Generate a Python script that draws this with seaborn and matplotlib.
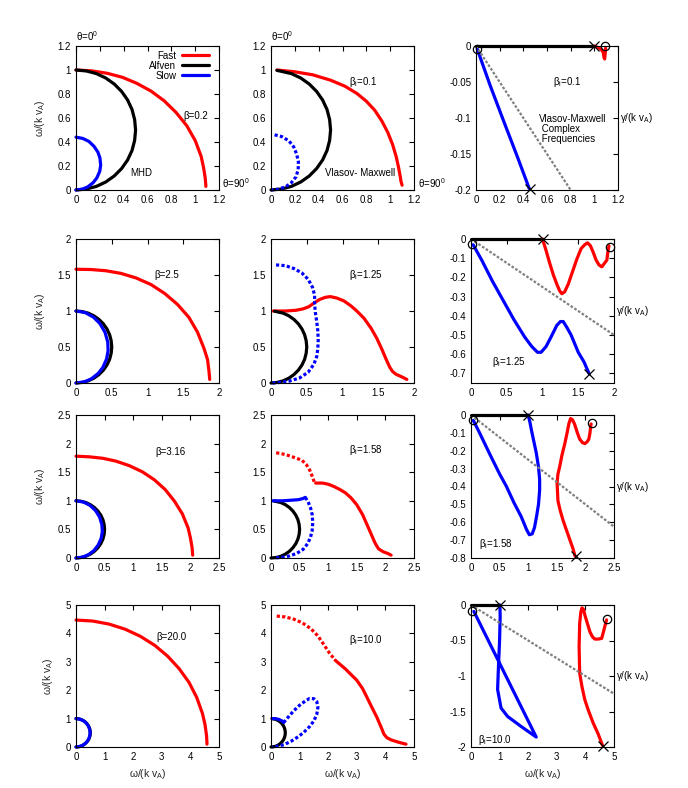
import matplotlib
matplotlib.use('Agg')
import matplotlib.pyplot as plt
from matplotlib.ticker import FuncFormatter
import seaborn as sns

# ---------------- values ----------------
# MHD column (left): Alfven circle, same in every row
alfven_x = [0, 0.087, 0.171, 0.25, 0.321, 0.383, 0.433, 0.47, 0.492, 0.5,
            0.492, 0.47, 0.433, 0.383, 0.321, 0.25, 0.171, 0.087, 0]
alfven_y = [1, 0.992, 0.97, 0.933, 0.883, 0.821, 0.75, 0.671, 0.587, 0.5,
            0.413, 0.329, 0.25, 0.179, 0.117, 0.067, 0.03, 0.008, 0]

# beta = 0.2
mhd1_fast_x = [0, 0.13, 0.26, 0.39, 0.51, 0.63, 0.74, 0.84, 0.93, 1.0, 1.05, 1.07, 1.085, 1.09]
mhd1_fast_y = [1, 0.993, 0.973, 0.939, 0.889, 0.824, 0.743, 0.646, 0.535, 0.413, 0.281, 0.189, 0.095, 0.03]
mhd1_slow_x = [0, 0.056, 0.108, 0.151, 0.183, 0.201, 0.207, 0.199, 0.175, 0.145, 0.1, 0.056, 0]
mhd1_slow_y = [0.44, 0.43, 0.405, 0.364, 0.317, 0.267, 0.207, 0.155, 0.101, 0.062, 0.027, 0.008, 0]
# beta = 2.5
mhd2_fast_x = [0, 0.21, 0.42, 0.63, 0.84, 1.05, 1.24, 1.42, 1.58, 1.7, 1.79, 1.84, 1.86, 1.87]
mhd2_fast_y = [1.58, 1.576, 1.559, 1.522, 1.459, 1.367, 1.244, 1.091, 0.91, 0.705, 0.481, 0.324, 0.163, 0.05]
mhd2_slow_x = [0, 0.129, 0.245, 0.334, 0.406, 0.444, 0.449, 0.428, 0.376, 0.309, 0.213, 0.117, 0]
mhd2_slow_y = [1, 0.978, 0.914, 0.826, 0.704, 0.569, 0.449, 0.335, 0.217, 0.131, 0.057, 0.016, 0]
# beta = 3.16
mhd3_fast_x = [0, 0.23, 0.47, 0.7, 0.93, 1.16, 1.37, 1.56, 1.72, 1.86, 1.96, 2.0, 2.03, 2.04]
mhd3_fast_y = [1.78, 1.769, 1.743, 1.693, 1.615, 1.507, 1.367, 1.196, 0.995, 0.77, 0.525, 0.353, 0.178, 0.05]
mhd3_slow_x = [0, 0.129, 0.246, 0.343, 0.413, 0.453, 0.46, 0.44, 0.386, 0.312, 0.219, 0.12, 0]
mhd3_slow_y = [1, 0.979, 0.919, 0.828, 0.715, 0.58, 0.46, 0.343, 0.223, 0.129, 0.059, 0.017, 0]
# beta = 20.0
mhd4_fast_x = [0, 0.58, 1.16, 1.72, 2.25, 2.75, 3.2, 3.6, 3.95, 4.22, 4.42, 4.51, 4.565, 4.58]
mhd4_fast_y = [4.47, 4.436, 4.327, 4.147, 3.898, 3.582, 3.202, 2.766, 2.278, 1.748, 1.184, 0.795, 0.399, 0.1]
mhd4_slow_x = [0, 0.129, 0.25, 0.352, 0.43, 0.478, 0.494, 0.475, 0.425, 0.346, 0.244, 0.135, 0]
mhd4_slow_y = [1, 0.981, 0.931, 0.85, 0.745, 0.623, 0.494, 0.365, 0.246, 0.143, 0.066, 0.019, 0]

# Vlasov-Maxwell real frequencies (middle column)
vm_alfven_x = [0.05, 0.171, 0.25, 0.321, 0.383, 0.433, 0.47, 0.492, 0.5,
               0.492, 0.47, 0.433, 0.383, 0.321, 0.25, 0.171, 0.087, 0]
vm_alfven_y = [0.997, 0.97, 0.933, 0.883, 0.821, 0.75, 0.671, 0.587, 0.5,
               0.413, 0.329, 0.25, 0.179, 0.117, 0.067, 0.03, 0.008, 0]
# beta_i = 0.1
vm1_fast_x = [0.05, 0.2, 0.35, 0.5, 0.62, 0.72, 0.8, 0.87, 0.93, 0.98, 1.02, 1.05, 1.07, 1.085, 1.09, 1.1]
vm1_fast_y = [1.0, 0.985, 0.96, 0.915, 0.865, 0.805, 0.74, 0.665, 0.575, 0.48, 0.38, 0.28, 0.19, 0.11, 0.075, 0.04]
vm1_slow_x = [0.03, 0.09, 0.15, 0.19, 0.215, 0.23, 0.228, 0.21, 0.17, 0.12, 0.06, 0.0]
vm1_slow_y = [0.46, 0.445, 0.41, 0.36, 0.3, 0.235, 0.17, 0.11, 0.06, 0.025, 0.007, 0.0]
# beta_i = 1.25
vm2_fast_x = [0.03, 0.2, 0.35, 0.45, 0.53, 0.6, 0.68, 0.76, 0.83, 0.92, 1.02, 1.12, 1.2, 1.3, 1.4,
              1.48, 1.55, 1.61, 1.66, 1.7, 1.75, 1.82, 1.9]
vm2_fast_y = [1.0, 1.0, 1.01, 1.03, 1.06, 1.11, 1.16, 1.19, 1.2, 1.18, 1.14, 1.07, 1.0, 0.9, 0.76,
              0.62, 0.47, 0.33, 0.22, 0.16, 0.12, 0.09, 0.05]
vm2_slow_x = [0.07, 0.2, 0.32, 0.43, 0.52, 0.58, 0.61, 0.61, 0.62, 0.64, 0.655, 0.66, 0.655,
              0.64, 0.6, 0.52, 0.4, 0.25, 0.1, 0.02]
vm2_slow_y = [1.64, 1.63, 1.59, 1.53, 1.44, 1.33, 1.22, 1.1, 0.98, 0.85, 0.72, 0.6, 0.48,
              0.37, 0.26, 0.15, 0.07, 0.025, 0.005, 0]
# beta_i = 1.58
vm3_fast_dot_x = [0.09, 0.25, 0.4, 0.54, 0.62, 0.68, 0.72, 0.76]
vm3_fast_dot_y = [1.84, 1.81, 1.76, 1.71, 1.63, 1.53, 1.43, 1.32]
vm3_fast_x = [0.78, 0.9, 1.0, 1.1, 1.2, 1.3, 1.4, 1.5, 1.6, 1.68, 1.75, 1.82, 1.88, 1.96, 2.04, 2.1]
vm3_fast_y = [1.31, 1.31, 1.29, 1.25, 1.2, 1.14, 1.05, 0.93, 0.76, 0.58, 0.42, 0.26, 0.16, 0.11, 0.08, 0.05]
vm3_slow_top_x = [0.03, 0.2, 0.35, 0.48, 0.56, 0.6]
vm3_slow_top_y = [1.0, 1.0, 1.01, 1.02, 1.04, 1.06]
vm3_slow_x = [0.6, 0.65, 0.69, 0.72, 0.73, 0.72, 0.69, 0.64, 0.56, 0.45, 0.32, 0.18, 0.05]
vm3_slow_y = [1.06, 0.98, 0.88, 0.76, 0.62, 0.48, 0.36, 0.25, 0.15, 0.08, 0.035, 0.01, 0]
# beta_i = 10.0
vm4_fast_dot_x = [0.2, 0.5, 0.8, 1.1, 1.4, 1.65, 1.85, 2.05, 2.25]
vm4_fast_dot_y = [4.61, 4.58, 4.5, 4.37, 4.16, 3.9, 3.6, 3.3, 3.05]
vm4_fast_x = [2.25, 2.6, 3.0, 3.2, 3.35, 3.5, 3.7, 3.85, 3.95, 4.05, 4.2, 4.45, 4.72]
vm4_fast_y = [3.05, 2.75, 2.35, 2.06, 1.76, 1.45, 1.05, 0.7, 0.45, 0.33, 0.25, 0.17, 0.1]
vm4_slow_top_x = [0.03, 0.15, 0.28, 0.38, 0.44]
vm4_slow_top_y = [1.0, 1.0, 0.97, 0.92, 0.86]
vm4_slow_x = [0.44, 0.6, 0.8, 1.0, 1.2, 1.35, 1.5, 1.6, 1.64, 1.6, 1.5, 1.35, 1.15, 0.95, 0.7,
              0.45, 0.2, 0.05]
vm4_slow_y = [0.86, 1.05, 1.28, 1.47, 1.62, 1.71, 1.7, 1.6, 1.4, 1.15, 0.92, 0.72, 0.52, 0.36, 0.2,
              0.08, 0.02, 0]

# Vlasov-Maxwell complex frequencies (right column): x = omega, y = gamma
cf1_alfven_x, cf1_alfven_y = [0, 1.0], [0, 0]
cf1_fast_x = [1.0, 1.03, 1.06, 1.075, 1.082, 1.087, 1.092, 1.095]
cf1_fast_y = [0, -0.002, -0.005, -0.009, -0.016, -0.018, -0.01, -0.003]
cf1_slow_x = [0.01, 0.12, 0.24, 0.35, 0.45]
cf1_slow_y = [-0.004, -0.055, -0.107, -0.154, -0.198]
cf1_ref_x, cf1_ref_y = [0, 0.8], [0, -0.2]
cf1_circ_x, cf1_circ_y = [0.01, 1.093], [-0.004, 0.0]
cf1_cross_x, cf1_cross_y = [1.0, 0.454], [0.0, -0.199]

cf2_alfven_x, cf2_alfven_y = [0, 1.0], [0, 0]
cf2_fast_x = [1.0, 1.05, 1.1, 1.15, 1.2, 1.24, 1.27, 1.31, 1.36, 1.42, 1.48, 1.54, 1.59, 1.63,
              1.67, 1.71, 1.75, 1.79, 1.83, 1.87, 1.9, 1.915, 1.93]
cf2_fast_y = [0, -0.06, -0.125, -0.185, -0.235, -0.27, -0.285, -0.275, -0.235, -0.17, -0.105,
              -0.05, -0.03, -0.02, -0.035, -0.07, -0.11, -0.135, -0.145, -0.125, -0.11, -0.065, -0.035]
cf2_slow_x = [0.03, 0.15, 0.3, 0.45, 0.6, 0.75, 0.85, 0.93, 0.98, 1.05, 1.12, 1.2, 1.25, 1.29,
              1.34, 1.4, 1.5, 1.58, 1.65]
cf2_slow_y = [-0.03, -0.11, -0.22, -0.32, -0.42, -0.51, -0.56, -0.59, -0.59, -0.56, -0.51, -0.45,
              -0.43, -0.43, -0.46, -0.5, -0.59, -0.64, -0.7]
cf2_ref_x, cf2_ref_y = [0, 2.0], [0, -0.5]
cf2_circ_x, cf2_circ_y = [0.02, 1.94], [-0.028, -0.04]
cf2_cross_x, cf2_cross_y = [1.0, 1.65], [0.0, -0.703]

cf3_alfven_x, cf3_alfven_y = [0, 1.0], [0, 0]
cf3_fast_x = [1.82, 1.78, 1.73, 1.67, 1.61, 1.56, 1.52, 1.505, 1.52, 1.55, 1.59, 1.64, 1.68, 1.71,
              1.74, 1.77, 1.81, 1.86, 1.9, 1.95, 1.99, 2.03, 2.06, 2.08, 2.09, 2.1]
cf3_fast_y = [-0.79, -0.745, -0.7, -0.645, -0.59, -0.535, -0.48, -0.38, -0.33, -0.29, -0.225,
              -0.16, -0.1, -0.05, -0.02, -0.025, -0.05, -0.1, -0.135, -0.155, -0.16, -0.15, -0.135,
              -0.1, -0.07, -0.05]
cf3_slow_x = [0.04, 0.15, 0.33, 0.5, 0.62, 0.75, 0.88, 0.97, 1.02, 1.07, 1.11, 1.15, 1.18, 1.2,
              1.2, 1.18, 1.14, 1.1, 1.06, 1.03, 1.0]
cf3_slow_y = [-0.03, -0.1, -0.22, -0.33, -0.4, -0.49, -0.57, -0.64, -0.67, -0.665, -0.63, -0.56,
              -0.5, -0.42, -0.36, -0.29, -0.21, -0.15, -0.09, -0.04, 0.0]
cf3_ref_x, cf3_ref_y = [0, 2.5], [0, -0.625]
cf3_circ_x, cf3_circ_y = [0.03, 2.116], [-0.026, -0.046]
cf3_cross_x, cf3_cross_y = [1.0, 1.84], [0.0, -0.79]

cf4_alfven_x, cf4_alfven_y = [0, 1.0], [0, 0]
cf4_fast_x = [4.6, 4.45, 4.27, 4.1, 3.98, 3.88, 3.8, 3.78, 3.8, 3.84, 3.88, 3.93, 3.98, 4.04, 4.1,
              4.16, 4.25, 4.33, 4.45, 4.57, 4.63, 4.68, 4.74]
cf4_fast_y = [-1.98, -1.82, -1.66, -1.48, -1.335, -1.15, -0.96, -0.59, -0.26, -0.1, -0.04, -0.06,
              -0.14, -0.22, -0.3, -0.38, -0.45, -0.48, -0.48, -0.47, -0.38, -0.3, -0.21]
cf4_slow_x = [0.1, 2.28, 1.75, 1.28, 1.05, 0.93, 0.96, 1.0, 1.02, 1.01]
cf4_slow_y = [-0.09, -1.86, -1.71, -1.57, -1.45, -1.19, -0.87, -0.49, -0.16, 0.0]
cf4_ref_x, cf4_ref_y = [0, 5.0], [0, -1.25]
cf4_circ_x, cf4_circ_y = [0.05, 4.77], [-0.08, -0.2]
cf4_cross_x, cf4_cross_y = [1.01, 4.6], [0.0, -1.98]

RED, BLACK, BLUE, GREY = '#ff0000', '#000000', '#0000ff', '#808080'

# ---------------- style ----------------
sns.set_theme(style='white')
plt.rcParams['font.family'] = ['Liberation Sans', 'DejaVu Sans']
plt.rcParams['mathtext.fontset'] = 'custom'
plt.rcParams['mathtext.rm'] = 'Liberation Sans'
plt.rcParams['mathtext.it'] = 'Liberation Sans:italic'
plt.rcParams['axes.unicode_minus'] = False
plt.rcParams['axes.edgecolor'] = 'black'
plt.rcParams['text.color'] = 'black'

FS = 7
LFS = 7.5
W, H = 688, 788
fig = plt.figure(figsize=(6.88, 7.88), dpi=100)


def new_axes(left, top, right, bottom):
    return fig.add_axes([left / W, 1 - bottom / H, (right - left) / W, (bottom - top) / H])


def style(ax, xmax, ymin, ymax, xticks, yticks):
    ax.set_xlim(0, xmax)
    ax.set_ylim(ymin, ymax)
    ax.set_xticks(xticks)
    ax.set_yticks(yticks)
    fmt = FuncFormatter(lambda v, p: '%g' % (round(v, 6) + 0))
    ax.xaxis.set_major_formatter(fmt)
    ax.yaxis.set_major_formatter(fmt)
    ax.tick_params(direction='in', top=True, right=True, length=3.5, width=0.8,
                   labelsize=FS, pad=3.5, colors='black')
    for s in ax.spines.values():
        s.set_visible(True)
        s.set_linewidth(0.8)
        s.set_color('black')


def curve(ax, x, y, color, dotted=False, label=None, lw=2.3):
    kw = {}
    if label is not None:
        kw['label'] = label
    ls = (0, (1.0, 0.7)) if dotted else '-'
    sns.lineplot(x=x, y=y, ax=ax, color=color, lw=lw, linestyle=ls, sort=False,
                 estimator=None, clip_on=False, dash_capstyle='butt', **kw)


def marks(ax, x, y, marker, ms):
    sns.lineplot(x=x, y=y, ax=ax, marker=marker, linestyle='none', mfc='none', mec='black',
                 ms=ms, mew=0.9, sort=False, estimator=None, clip_on=False, color='black')


rows_tb = [(46, 190), (239, 383), (415, 558), (605, 747)]
cols_lr = [(76, 219), (271, 414), (471, 614)]

OMEGA = 'ω/(k v$_\\mathrm{A}$)'
GAMMA = 'γ/(k v$_\\mathrm{A}$)'

mhd_rows = [
    (mhd1_fast_x, mhd1_fast_y, mhd1_slow_x, mhd1_slow_y, 'β=0.2', (0.905, 0.62)),
    (mhd2_fast_x, mhd2_fast_y, mhd2_slow_x, mhd2_slow_y, 'β=2.5', (1.1, 1.5)),
    (mhd3_fast_x, mhd3_fast_y, mhd3_slow_x, mhd3_slow_y, 'β=3.16', (1.38, 1.86)),
    (mhd4_fast_x, mhd4_fast_y, mhd4_slow_x, mhd4_slow_y, 'β=20.0', (2.82, 3.86)),
]
limits = [(1.2, [0, 0.2, 0.4, 0.6, 0.8, 1.0, 1.2]),
          (2.0, [0, 0.5, 1.0, 1.5, 2.0]),
          (2.5, [0, 0.5, 1.0, 1.5, 2.0, 2.5]),
          (5.0, [0, 1, 2, 3, 4, 5])]

# ---------------- left column: MHD ----------------
for i, (fx, fy, sx, sy, lab, pos) in enumerate(mhd_rows):
    top, bottom = rows_tb[i]
    ax = new_axes(cols_lr[0][0], top, cols_lr[0][1], bottom)
    lim, ticks = limits[i]
    curve(ax, fx, fy, RED, label='Fast' if i == 0 else None)
    curve(ax, alfven_x, alfven_y, BLACK, label='Alfven' if i == 0 else None)
    curve(ax, sx, sy, BLUE, label='Slow' if i == 0 else None)
    style(ax, lim, 0, lim, ticks, ticks)
    ax.text(pos[0], pos[1], lab, fontsize=FS, va='center', ha='left')
    ax.set_ylabel(OMEGA, fontsize=LFS, labelpad=8)
    if i == 0:
        ax.legend(loc='upper right', bbox_to_anchor=(0.965, 1.0), frameon=False,
                  markerfirst=False, fontsize=FS, handlelength=2.8, handletextpad=0.6,
                  labelspacing=0.0, borderaxespad=0.2, borderpad=0.3)
        ax.text(0.453, 0.14, 'MHD', fontsize=FS, va='center', ha='left')
        ax.text(0.0, 1.07, 'θ=0$^\\mathrm{0}$', transform=ax.transAxes, fontsize=FS, va='center')
        ax.text(1.02, 0.045, 'θ=90$^\\mathrm{0}$', transform=ax.transAxes, fontsize=FS, va='center')
    else:
        leg = ax.get_legend()
        if leg is not None:
            leg.remove()
    if i == 3:
        ax.set_xlabel(OMEGA, fontsize=LFS, labelpad=4)

# ---------------- middle column: Vlasov-Maxwell real parts ----------------
vm_labels = [('β$_\\mathrm{i}$=0.1', (0.655, 0.9)), ('β$_\\mathrm{i}$=1.25', (1.095, 1.5)),
             ('β$_\\mathrm{i}$=1.58', (1.37, 1.88)), ('β$_\\mathrm{i}$=10.0', (2.74, 3.76))]
for i in range(4):
    top, bottom = rows_tb[i]
    ax = new_axes(cols_lr[1][0], top, cols_lr[1][1], bottom)
    lim, ticks = limits[i]
    if i == 0:
        curve(ax, vm1_fast_x, vm1_fast_y, RED)
        curve(ax, vm_alfven_x, vm_alfven_y, BLACK)
        curve(ax, vm1_slow_x, vm1_slow_y, BLUE, dotted=True)
    elif i == 1:
        curve(ax, vm2_fast_x, vm2_fast_y, RED)
        curve(ax, vm_alfven_x, vm_alfven_y, BLACK)
        curve(ax, vm2_slow_x, vm2_slow_y, BLUE, dotted=True)
    elif i == 2:
        curve(ax, vm3_fast_dot_x, vm3_fast_dot_y, RED, dotted=True)
        curve(ax, vm3_fast_x, vm3_fast_y, RED)
        curve(ax, vm_alfven_x, vm_alfven_y, BLACK)
        curve(ax, vm3_slow_top_x, vm3_slow_top_y, BLUE)
        curve(ax, vm3_slow_x, vm3_slow_y, BLUE, dotted=True)
    else:
        curve(ax, vm4_fast_dot_x, vm4_fast_dot_y, RED, dotted=True)
        curve(ax, vm4_fast_x, vm4_fast_y, RED)
        curve(ax, vm_alfven_x, vm_alfven_y, BLACK)
        curve(ax, vm4_slow_top_x, vm4_slow_top_y, BLUE)
        curve(ax, vm4_slow_x, vm4_slow_y, BLUE, dotted=True)
    style(ax, lim, 0, lim, ticks, ticks)
    lab, pos = vm_labels[i]
    ax.text(pos[0], pos[1], lab, fontsize=FS, va='center', ha='left')
    if i == 0:
        ax.text(0.454, 0.14, 'Vlasov- Maxwell', fontsize=FS, va='center', ha='left')
        ax.text(0.0, 1.07, 'θ=0$^\\mathrm{0}$', transform=ax.transAxes, fontsize=FS, va='center')
        ax.text(1.025, 0.045, 'θ=90$^\\mathrm{0}$', transform=ax.transAxes, fontsize=FS, va='center')
    if i == 3:
        ax.set_xlabel(OMEGA, fontsize=LFS, labelpad=4)

# ---------------- right column: complex frequencies ----------------
cf_rows = [
    (cf1_alfven_x, cf1_alfven_y, cf1_fast_x, cf1_fast_y, cf1_slow_x, cf1_slow_y, cf1_ref_x, cf1_ref_y,
     cf1_circ_x, cf1_circ_y, cf1_cross_x, cf1_cross_y),
    (cf2_alfven_x, cf2_alfven_y, cf2_fast_x, cf2_fast_y, cf2_slow_x, cf2_slow_y, cf2_ref_x, cf2_ref_y,
     cf2_circ_x, cf2_circ_y, cf2_cross_x, cf2_cross_y),
    (cf3_alfven_x, cf3_alfven_y, cf3_fast_x, cf3_fast_y, cf3_slow_x, cf3_slow_y, cf3_ref_x, cf3_ref_y,
     cf3_circ_x, cf3_circ_y, cf3_cross_x, cf3_cross_y),
    (cf4_alfven_x, cf4_alfven_y, cf4_fast_x, cf4_fast_y, cf4_slow_x, cf4_slow_y, cf4_ref_x, cf4_ref_y,
     cf4_circ_x, cf4_circ_y, cf4_cross_x, cf4_cross_y),
]
cf_ylims = [(-0.2, [0, -0.05, -0.1, -0.15, -0.2]),
            (-0.75, [0, -0.1, -0.2, -0.3, -0.4, -0.5, -0.6, -0.7]),
            (-0.8, [0, -0.1, -0.2, -0.3, -0.4, -0.5, -0.6, -0.7, -0.8]),
            (-2.0, [0, -0.5, -1.0, -1.5, -2.0])]
cf_labels = [('β$_\\mathrm{i}$=0.1', (0.653, -0.05)), ('β$_\\mathrm{i}$=1.25', (0.3, -0.64)),
             ('β$_\\mathrm{i}$=1.58', (0.145, -0.722)), ('β$_\\mathrm{i}$=10.0', (0.26, -1.897))]
for i, (ax_, ay_, fx, fy, sx, sy, rx, ry, cx, cy, xx, xy) in enumerate(cf_rows):
    top, bottom = rows_tb[i]
    left, right = cols_lr[2]
    if i == 0:
        left, right = 476, 618
    ax = new_axes(left, top, right, bottom)
    lim, ticks = limits[i]
    ymin, yticks = cf_ylims[i]
    curve(ax, ax_, ay_, BLACK)
    curve(ax, sx, sy, BLUE)
    curve(ax, fx, fy, RED)
    sns.lineplot(x=rx, y=ry, ax=ax, color=GREY, lw=1.6, linestyle=(0, (1.2, 0.8)),
                 sort=False, estimator=None, dash_capstyle='butt')
    marks(ax, cx, cy, 'o', 6)
    marks(ax, xx, xy, 'x', 6.5)
    style(ax, lim, ymin, 0, ticks, yticks)
    lab, pos = cf_labels[i]
    ax.text(pos[0], pos[1], lab, fontsize=FS, va='center', ha='left')
    ax.text(1.015, 0.5, GAMMA, transform=ax.transAxes, fontsize=FS, va='center', ha='left')
    if i == 0:
        ax.text(0.53, -0.094, 'Vlasov-Maxwell\n Complex\n Frequencies', fontsize=FS,
                va='top', ha='left', linespacing=1.0)
    if i == 3:
        ax.set_xlabel(OMEGA, fontsize=LFS, labelpad=4)

fig.savefig('out.png', dpi=100, facecolor='white')
